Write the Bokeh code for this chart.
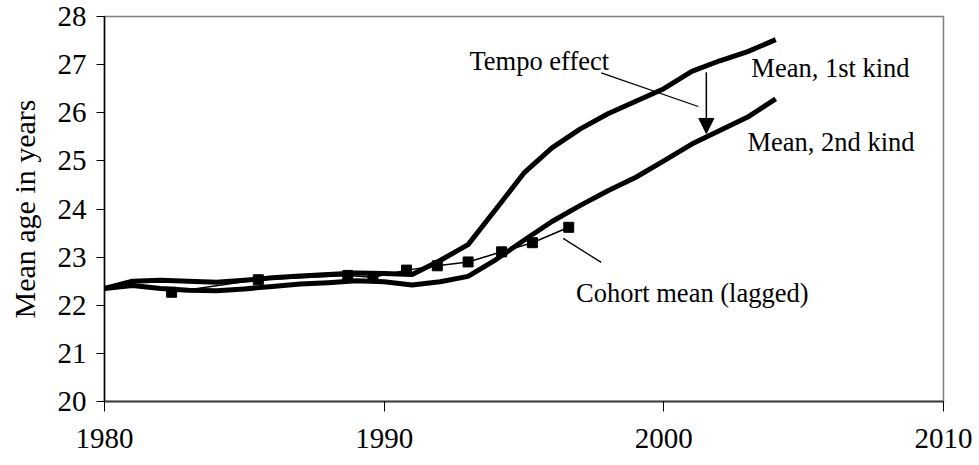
from bokeh.plotting import figure
from bokeh.models import Range1d, FixedTicker, Arrow, NormalHead, ColumnDataSource
from bokeh.embed import file_html
from bokeh.resources import INLINE
from bokeh.core.properties import value

# ---- data ----
years = list(range(1980, 2005))
mean_1st = [22.35, 22.50, 22.52, 22.50, 22.48, 22.52, 22.57, 22.61, 22.64, 22.67,
            22.66, 22.64, 22.93, 23.26, 24.00, 24.75, 25.27, 25.66, 25.98, 26.24,
            26.50, 26.86, 27.08, 27.27, 27.52]
mean_2nd = [22.35, 22.41, 22.35, 22.31, 22.30, 22.34, 22.39, 22.44, 22.47, 22.51,
            22.49, 22.42, 22.49, 22.60, 22.95, 23.35, 23.74, 24.07, 24.38, 24.66,
            25.00, 25.35, 25.63, 25.91, 26.29]
cohort_years = [1982.4, 1985.5, 1988.7, 1989.6, 1990.8, 1991.9, 1993.0, 1994.2, 1995.3, 1996.6]
cohort_mean = [22.27, 22.53, 22.62, 22.58, 22.73, 22.82, 22.90, 23.11, 23.30, 23.62]
x_ticks = [1980, 1990, 2000, 2010]
y_ticks = [20, 21, 22, 23, 24, 25, 26, 27, 28]
y_label = "Mean age in years"
annotations = ["Tempo effect", "Mean, 1st kind", "Mean, 2nd kind", "Cohort mean (lagged)"]

FONT = "Liberation Serif"

p = figure(width=979, height=465, output_backend="svg", toolbar_location=None,
           x_range=Range1d(1980, 2010), y_range=Range1d(20, 28),
           min_border_left=104, min_border_right=36, min_border_top=16,
           min_border_bottom=64)
p.background_fill_color = "white"
p.border_fill_color = "white"
p.outline_line_color = "#808080"
p.outline_line_width = 1.5
p.xgrid.visible = False
p.ygrid.visible = False

# axes
p.xaxis.ticker = FixedTicker(ticks=x_ticks)
p.yaxis.ticker = FixedTicker(ticks=y_ticks)
for ax in (p.xaxis, p.yaxis):
    ax.minor_tick_line_color = None
    ax.major_tick_in = 0
    ax.major_label_text_font = FONT
    ax.major_label_text_color = "black"
    ax.major_label_text_font_size = "29px"
    ax.major_tick_line_color = "black"
p.xaxis.axis_line_color = "#404040"
p.xaxis.axis_line_width = 2
p.xaxis.major_tick_out = 10
p.xaxis.major_label_standoff = 17
p.yaxis.axis_line_color = "black"
p.yaxis.axis_line_width = 1.5
p.yaxis.major_tick_out = 8
p.yaxis.major_label_standoff = 10
p.yaxis.axis_label = y_label
p.yaxis.axis_label_text_font = FONT
p.yaxis.axis_label_text_font_style = "normal"
p.yaxis.axis_label_text_font_size = "30px"
p.yaxis.axis_label_text_color = "black"
p.yaxis.axis_label_standoff = 14

# series
p.line(years, mean_1st, line_color="black", line_width=5, line_join="round")
p.line(years, mean_2nd, line_color="black", line_width=5, line_join="round")
p.line(cohort_years, cohort_mean, line_color="black", line_width=1.5)
p.scatter(cohort_years, cohort_mean, marker="square", size=10,
          fill_color="black", line_color="black")

# pointer lines
p.segment(x0=[1997.76, 1996.40], y0=[26.83, 23.39], x1=[2001.23, 1997.76], y1=[26.13, 22.89],
          line_color="black", line_width=1.3)
p.add_layout(Arrow(end=NormalHead(size=15, fill_color="black", line_color="black"),
                   x_start=2001.52, y_start=26.84, x_end=2001.52, y_end=25.57,
                   line_color="black", line_width=1.5))

src = ColumnDataSource(dict(x=[1993.05, 2003.13, 2002.99, 1996.86],
                            y=[27.07, 26.92, 25.39, 22.25],
                            t=annotations))
p.text(x="x", y="y", text="t", source=src, text_font=value(FONT),
       text_font_size="26.5px", text_color="black", text_align="left",
       text_baseline="alphabetic")

open("out.html", "w").write(file_html(p, INLINE))
